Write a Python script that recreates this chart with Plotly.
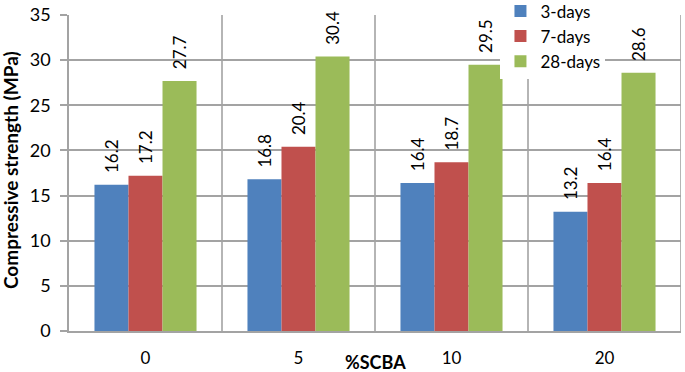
import plotly.graph_objects as go

categories = ["0", "5", "10", "20"]
days3 = [16.2, 16.8, 16.4, 13.2]
days7 = [17.2, 20.4, 18.7, 16.4]
days28 = [27.7, 30.4, 29.5, 28.6]
series_names = ["3-days", "7-days", "28-days"]
colors = ["#4F81BD", "#C0504D", "#9BBB59"]

FONT = "Lato, 'Open Sans', sans-serif"
GRID = "#A3A3A3"
PAD = "\u00a0\u00a0"

fig = go.Figure()
for name, vals, col in zip(series_names, [days3, days7, days28], colors):
    fig.add_trace(go.Bar(
        x=categories, y=vals, name=name, marker=dict(color=col, line=dict(width=0)),
        text=[f"{PAD}{v:.1f}" for v in vals], textposition="outside", textangle=-90,
        textfont=dict(size=17, color="black", family=FONT),
        cliponaxis=False, constraintext="none",
    ))

# category separators
for i in range(len(categories)):
    fig.add_shape(type="line", xref="x", yref="y", x0=i + 0.5, x1=i + 0.5, y0=0, y1=35,
                  line=dict(color=GRID, width=1.6), layer="below")

fig.update_layout(
    width=685, height=372,
    margin=dict(l=69, r=4, t=0, b=41, autoexpand=False),
    plot_bgcolor="white", paper_bgcolor="white",
    barmode="group", bargap=0.333, bargroupgap=0,
    font=dict(family=FONT, size=17, color="black"),
    legend=dict(x=0.705, y=1.02, xanchor="left", yanchor="top",
                bgcolor="white", font=dict(size=17), tracegroupgap=0, itemwidth=30),
    xaxis=dict(showline=True, linecolor=GRID, linewidth=1.6, showgrid=False,
               ticks="", tickfont=dict(size=17), range=[-0.5, 3.5], ticklabelstandoff=11),
    yaxis=dict(range=[0, 35], dtick=5, domain=[0, 316 / 331], showgrid=True, gridcolor=GRID,
               gridwidth=1.6, showline=True, linecolor=GRID, linewidth=1.6, ticks="outside",
               ticklen=7, tickcolor=GRID, tickwidth=1.6, tickfont=dict(size=18),
               zeroline=False, ticklabelstandoff=6),
    showlegend=True,
)
fig.add_annotation(text="<b>Compressive strength (MPa)</b>", textangle=-90,
                   x=(11 - 69) / 612, y=(331 - 170) / 331,
                   xref="paper", yref="paper", showarrow=False,
                   xanchor="center", yanchor="middle", font=dict(size=19))
fig.add_annotation(text="<b>%SCBA</b>", x=0.5, y=0, xref="paper", yref="paper",
                   yshift=-31, showarrow=False, yanchor="middle",
                   font=dict(size=18))
fig.write_html("out.html", config={"displayModeBar": False},
               post_script="document.body.style.margin='0';")
